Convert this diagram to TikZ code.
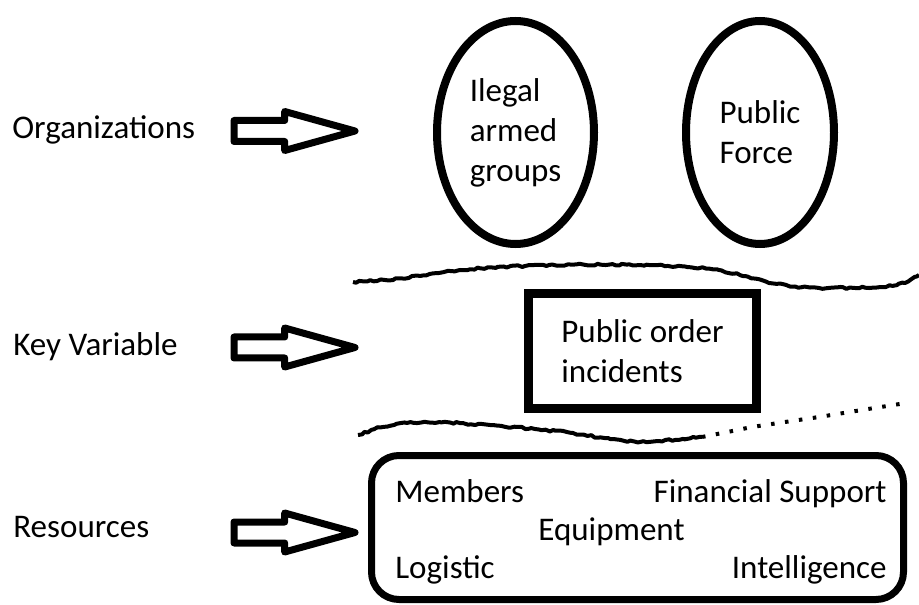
\documentclass[tikz,border=0pt]{standalone}
\usepackage{fontspec}
\setmainfont{Carlito}
\usetikzlibrary{shapes.geometric,shapes.arrows,decorations.pathmorphing}

\begin{document}
\begin{tikzpicture}[font=\fontsize{18.8}{22.8}\selectfont,
  sidetext/.style={anchor=base west, inner sep=0},
  blockarrow/.style={single arrow, draw, line width=0.14cm, line join=round, anchor=tail, inner xsep=0, inner ysep=0.14cm, minimum width=0pt, minimum height=2.42cm, single arrow head extend=0.18cm, single arrow tip angle=31},
  oval/.style={ellipse, draw, line width=0.16cm, inner sep=0, minimum height=4.46cm, align=left},
  itemtext/.style={inner sep=0},
  scribble/.style={line width=0.08cm, line join=round, decorate, decoration={random steps, segment length=2pt, amplitude=0.6pt}}]
\useasboundingbox (0,0) rectangle (18.38,-12.10);
% row labels
\node[sidetext] (org) at (0.24,-2.78) {Organizations};
\node[sidetext] (keyvar) at (0.26,-7.10) {Key Variable};
\node[sidetext] (res) at (0.26,-10.74) {Resources};
% hollow arrows
\node[blockarrow] (orgarrow) at (4.61,-2.62) {};
\node[blockarrow] (keyarrow) at (4.61,-6.95) {};
\node[blockarrow] (resarrow) at (4.61,-10.65) {};
% organizations
\node[oval, minimum width=3.14cm] (illegal) at (10.31,-2.65) {Ilegal\\armed\\groups};
\node[oval, minimum width=2.96cm] (force) at (15.20,-2.65) {Public\\Force};
% key variable
\node[draw, line width=0.18cm, inner sep=0, minimum width=4.56cm, minimum height=2.30cm, align=left] (incidents) at (12.85,-7.02) {Public order\\incidents};
\draw[scribble] (7.06,-5.64) -- (7.70,-5.60) -- (8.40,-5.52) -- (9.20,-5.40) -- (9.94,-5.34) -- (11.40,-5.29) -- (12.80,-5.30) -- (13.70,-5.33) -- (14.38,-5.40) -- (14.90,-5.52) -- (15.38,-5.66) -- (15.90,-5.73) -- (16.38,-5.76) -- (17.10,-5.76) -- (17.72,-5.74) -- (18.10,-5.66) -- (18.38,-5.50);
\draw[scribble] (7.16,-8.70) -- (7.60,-8.55) -- (8.14,-8.46) -- (9.00,-8.45) -- (9.80,-8.50) -- (10.70,-8.58) -- (11.46,-8.66) -- (12.20,-8.78) -- (12.80,-8.84) -- (13.50,-8.80) -- (14.04,-8.74);
\draw[line width=0.08cm, dash pattern=on 2pt off 6pt] (14.04,-8.74) -- (14.60,-8.63) -- (15.04,-8.54) -- (15.70,-8.44) -- (16.38,-8.34) -- (17.30,-8.19) -- (18.12,-8.06);
% resources
\node[draw, line width=0.14cm, rounded corners=0.55cm, minimum width=10.64cm, minimum height=2.88cm] (resbox) at (12.75,-10.55) {};
\node[itemtext, anchor=base west] (members) at (7.90,-10.04) {Members};
\node[itemtext, anchor=base east] (finance) at (17.74,-10.04) {Financial Support};
\node[itemtext, anchor=base west] (equipment) at (10.76,-10.80) {Equipment};
\node[itemtext, anchor=base west] (logistic) at (7.90,-11.56) {Logistic};
\node[itemtext, anchor=base east] (intel) at (17.74,-11.56) {Intelligence};
\end{tikzpicture}
\end{document}
